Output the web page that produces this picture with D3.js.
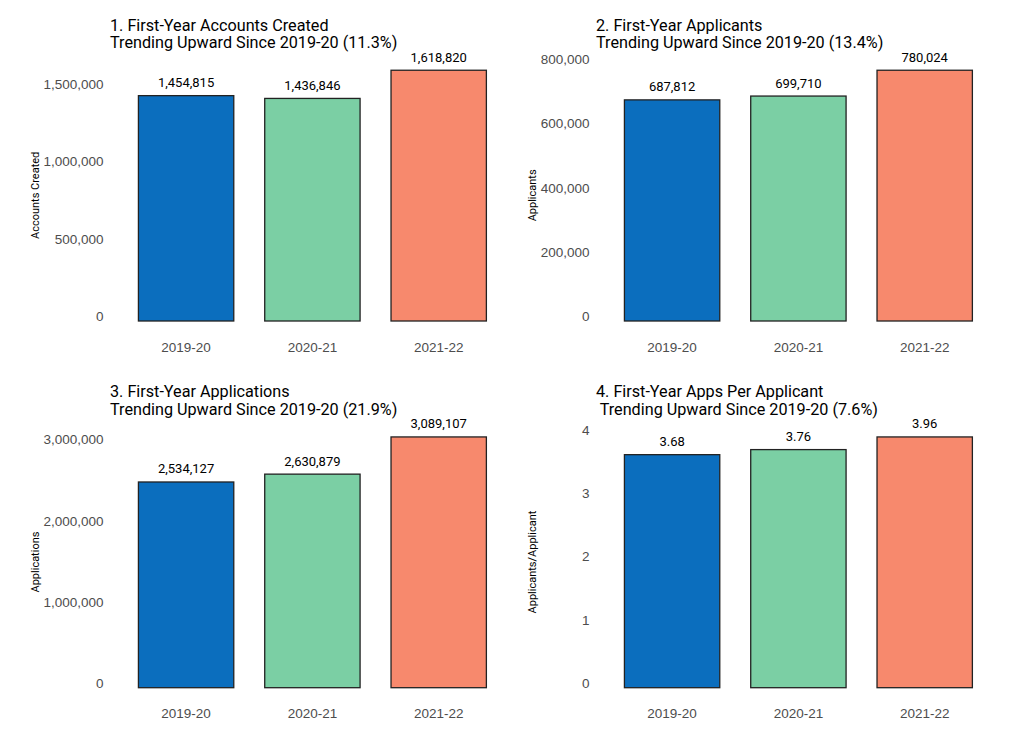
<!DOCTYPE html>
<html>
<head>
<meta charset="utf-8">
<script src="https://cdn.jsdelivr.net/npm/d3@7"></script>
<style>
  body { margin: 0; background: #fff; }
  svg { display: block; font-family: Roboto, "Noto Sans", sans-serif; }
  .title { font-size: 16.2px; fill: #000; white-space: pre; }
  .tick text { font-size: 13.5px; fill: #4d4d4d; }
  .vlab { font-size: 13px; fill: #000; }
  .ytitle { font-size: 11px; fill: #000; }
</style>
</head>
<body>
<div id="chart"></div>
<script>
// data
var years = ["2019-20", "2020-21", "2021-22"];
var barColors = ["#0b6ebe", "#7bcfa4", "#f7896d"];

var accounts = [1454815, 1436846, 1618820];
var applicants = [687812, 699710, 780024];
var applications = [2534127, 2630879, 3089107];
var appsPerApplicant = [3.68, 3.76, 3.96];

var accountsTicks = [0, 500000, 1000000, 1500000];
var applicantsTicks = [0, 200000, 400000, 600000, 800000];
var applicationsTicks = [0, 1000000, 2000000, 3000000];
var perApplicantTicks = [0, 1, 2, 3, 4];

var panels = [
  { values: accounts, ticks: accountsTicks, fmt: d3.format(","), tickFmt: d3.format(","), yTitle: "Accounts Created",
    title: ["1. First-Year Accounts Created", "Trending Upward Since 2019-20 (11.3%)"], left: 110, base: 321, yTitleX: 39 },
  { values: applicants, ticks: applicantsTicks, fmt: d3.format(","), tickFmt: d3.format(","), yTitle: "Applicants",
    title: ["2. First-Year Applicants", "Trending Upward Since 2019-20 (13.4%)"], left: 596, base: 321, yTitleX: 536 },
  { values: applications, ticks: applicationsTicks, fmt: d3.format(","), tickFmt: d3.format(","), yTitle: "Applications",
    title: ["3. First-Year Applications", "Trending Upward Since 2019-20 (21.9%)"], left: 110, base: 687.7, yTitleX: 39 },
  { values: appsPerApplicant, ticks: perApplicantTicks, fmt: d3.format(".2f"), tickFmt: d3.format("d"), yTitle: "Applicants/Applicant",
    title: ["4. First-Year Apps Per Applicant", " Trending Upward Since 2019-20 (7.6%)"], left: 596, base: 687.7, yTitleX: 536 }
];

var W = 1012, H = 751;
var plotH = 263.3, plotW = 404.8;

var svg = d3.select("#chart").append("svg")
  .attr("width", W)
  .attr("height", H);

panels.forEach(function (p) {
  var g = svg.append("g");
  var top = p.base - plotH;

  var x = d3.scaleBand()
    .domain(years)
    .range([p.left, p.left + plotW])
    .paddingInner(0.245)
    .paddingOuter(0.225);

  var y = d3.scaleLinear()
    .domain([0, d3.max(p.values) * 1.05])
    .range([p.base, top]);

  // y axis
  var yAxis = g.append("g")
    .attr("transform", "translate(" + (p.left - 6.5) + ",0)")
    .call(d3.axisLeft(y).tickValues(p.ticks).tickFormat(p.tickFmt).tickSize(0).tickPadding(0));
  yAxis.select(".domain").remove();
  yAxis.selectAll("text").attr("dy", "-0.02em");

  // x axis
  var xAxis = g.append("g")
    .attr("transform", "translate(0," + p.base + ")")
    .call(d3.axisBottom(x).tickSize(0).tickPadding(0));
  xAxis.select(".domain").remove();
  xAxis.selectAll("text").attr("dy", null).attr("y", 30.5);

  // bars
  g.selectAll("rect.bar")
    .data(p.values)
    .enter().append("rect")
    .attr("class", "bar")
    .attr("x", function (d, i) { return x(years[i]); })
    .attr("y", function (d) { return y(d); })
    .attr("width", x.bandwidth())
    .attr("height", function (d) { return p.base - y(d); })
    .attr("fill", function (d, i) { return barColors[i]; })
    .attr("stroke", "#222")
    .attr("stroke-width", 1.3);

  // value labels
  g.selectAll("text.vlab")
    .data(p.values)
    .enter().append("text")
    .attr("class", "vlab")
    .attr("text-anchor", "middle")
    .attr("x", function (d, i) { return x(years[i]) + x.bandwidth() / 2; })
    .attr("y", function (d) { return y(d) - 8.5; })
    .text(function (d) { return p.fmt(d); });

  // y title
  g.append("text")
    .attr("class", "ytitle")
    .attr("text-anchor", "middle")
    .attr("transform", "translate(" + p.yTitleX + "," + ((top + p.base) / 2 + 6) + ") rotate(-90)")
    .text(p.yTitle);

  // title
  g.selectAll("text.title")
    .data(p.title)
    .enter().append("text")
    .attr("class", "title")
    .attr("x", p.left)
    .attr("y", function (d, i) { return p.base - 290.3 + i * 17.5; })
    .text(function (d) { return d; });
});
</script>
</body>
</html>
